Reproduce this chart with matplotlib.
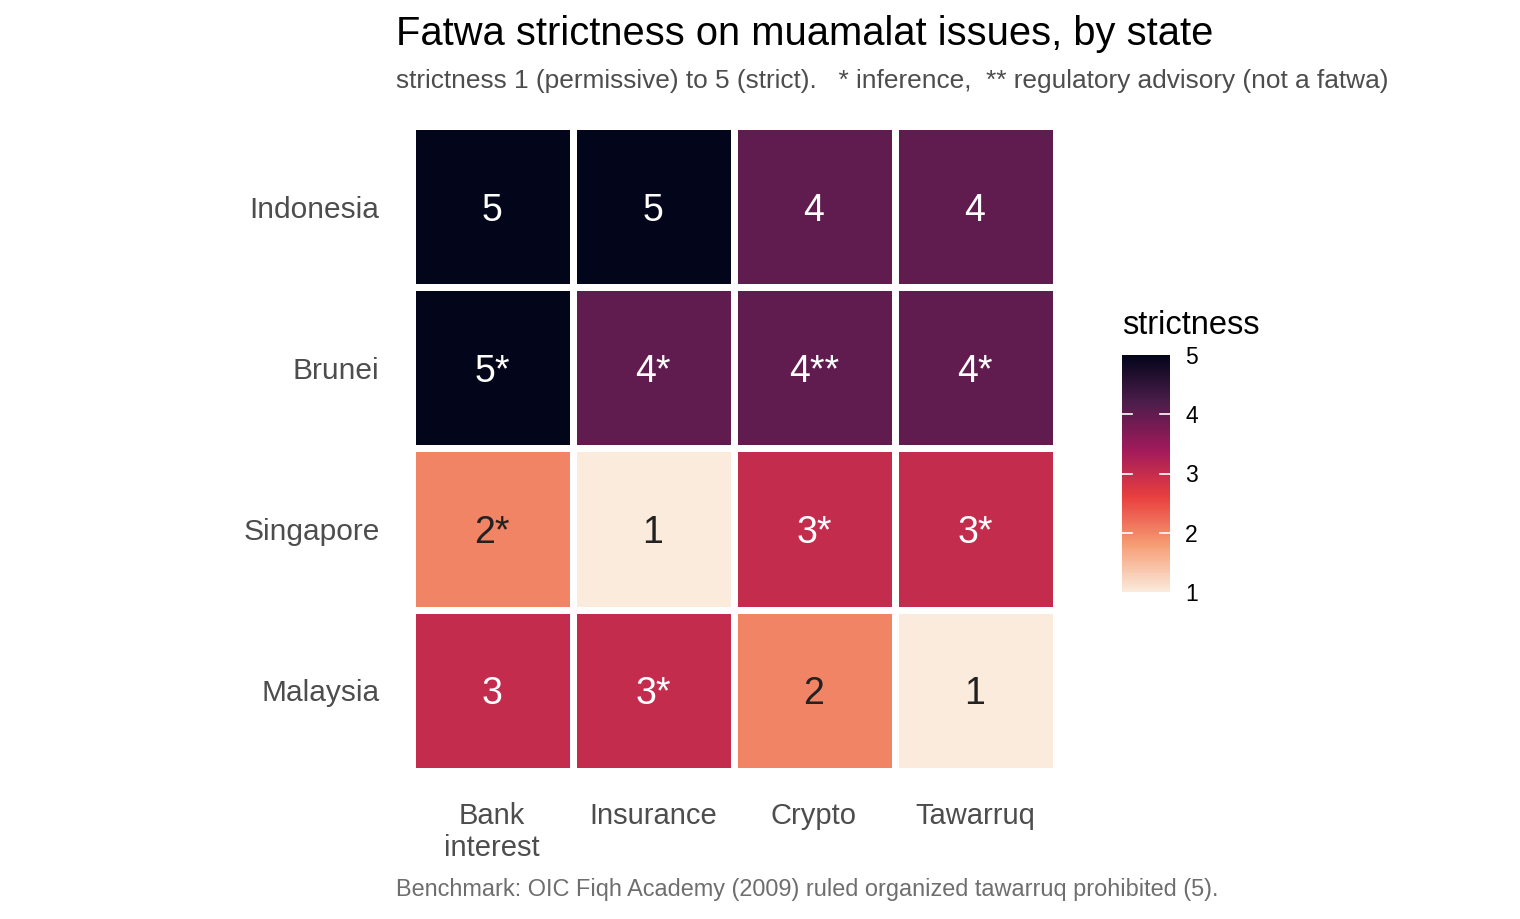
import matplotlib
matplotlib.use('Agg')
import matplotlib.pyplot as plt
from matplotlib.colors import LinearSegmentedColormap
import numpy as np

plt.rcParams['font.family'] = ['Liberation Sans', 'DejaVu Sans']

# data
states = ['Indonesia', 'Brunei', 'Singapore', 'Malaysia']
issues = ['Bank\ninterest', 'Insurance', 'Crypto', 'Tawarruq']
strictness = [
    [5, 5, 4, 4],
    [5, 4, 4, 4],
    [2, 1, 3, 3],
    [3, 3, 2, 1],
]
labels = [
    ['5', '5', '4', '4'],
    ['5*', '4*', '4**', '4*'],
    ['2*', '1', '3*', '3*'],
    ['3', '3*', '2', '1'],
]

# rocket (6 stops, reversed) like scale_fill_viridis_c(option="rocket", direction=-1)
rocket6 = ['#FAEBDD', '#F69C73', '#E83F3F', '#A11A5B', '#4C1D4B', '#03051A']
cmap = LinearSegmentedColormap.from_list('rocket6', rocket6)
vals = np.array(strictness, dtype=float)

W, H = 1520, 919
fig = plt.figure(figsize=(W / 100, H / 100), dpi=100)

# main heatmap axes (pixel coords converted)
l, r, t, b = 411.5, 1055.5, 126.5, 770.5
ax = fig.add_axes([l / W, 1 - b / H, (r - l) / W, (b - t) / H])
mesh = ax.pcolormesh(vals, cmap=cmap, vmin=1, vmax=5,
                     edgecolors='white', linewidth=5.0)
ax.set_xlim(0, 4)
ax.set_ylim(4, 0)
for i in range(len(states)):
    for j in range(len(issues)):
        c = 'white' if vals[i, j] >= 3 else '#222222'
        ax.text(j + 0.5, i + 0.5, labels[i][j], ha='center', va='center_baseline',
                fontsize=27, color=c)

ax.set_xticks(np.arange(4) + 0.5)
ax.set_xticklabels(issues, fontsize=21, color='#4D4D4D', linespacing=1.15)
ax.set_yticks(np.arange(4) + 0.5)
ax.set_yticklabels(states, fontsize=21.5, color='#4D4D4D')
ax.tick_params(axis='y', length=0, pad=23)
ax.tick_params(axis='x', length=0, pad=23)
for s in ax.spines.values():
    s.set_visible(False)

# titles
fig.text(396 / W, 1 - 45 / H, 'Fatwa strictness on muamalat issues, by state',
         fontsize=28.7, color='black', ha='left', va='baseline')
fig.text(396 / W, 1 - 88 / H,
         'strictness 1 (permissive) to 5 (strict).   * inference,  ** regulatory advisory (not a fatwa)',
         fontsize=18.9, color='#4D4D4D', ha='left', va='baseline')
fig.text(396 / W, 1 - 896 / H,
         'Benchmark: OIC Fiqh Academy (2009) ruled organized tawarruq prohibited (5).',
         fontsize=16.9, color='#6E6E6E', ha='left', va='baseline')

# colorbar
cl, cr, ct, cb_ = 1122, 1170, 355, 592
cax = fig.add_axes([cl / W, 1 - cb_ / H, (cr - cl) / W, (cb_ - ct) / H])
cb = fig.colorbar(mesh, cax=cax, ticks=[1, 2, 3, 4, 5])
cb.outline.set_visible(False)
cax.tick_params(length=0, labelsize=16.5, pad=11, colors='black')
for v in [2, 3, 4]:
    cax.axhline(v, xmin=0, xmax=0.2, color='white', lw=1.2)
    cax.axhline(v, xmin=0.8, xmax=1, color='white', lw=1.2)
fig.text(1122 / W, 1 - 334 / H, 'strictness', fontsize=23.5, color='black',
         ha='left', va='baseline')

fig.savefig('out.png', dpi=100, facecolor='white')
